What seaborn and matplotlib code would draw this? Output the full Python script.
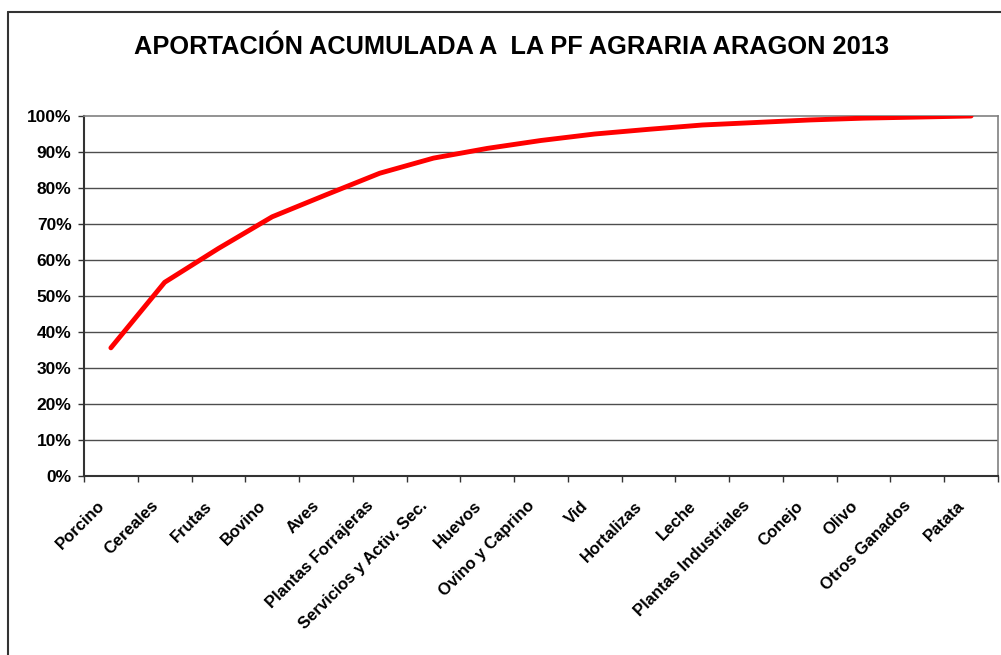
import matplotlib
matplotlib.use("Agg")
import matplotlib.pyplot as plt
import matplotlib.transforms as mtransforms
from matplotlib.ticker import FixedLocator, PercentFormatter
import seaborn as sns
import pandas as pd

categorias = ['Porcino', 'Cereales', 'Frutas', 'Bovino', 'Aves', 'Plantas Forrajeras',
              'Servicios y Activ. Sec.', 'Huevos', 'Ovino y Caprino', 'Vid', 'Hortalizas',
              'Leche', 'Plantas Industriales', 'Conejo', 'Olivo', 'Otros Ganados', 'Patata']
acumulado = [0.356, 0.538, 0.632, 0.720, 0.781, 0.841, 0.883, 0.910, 0.932, 0.950,
             0.963, 0.975, 0.982, 0.989, 0.994, 0.997, 1.000]
y_ticks = [0.0, 0.1, 0.2, 0.3, 0.4, 0.5, 0.6, 0.7, 0.8, 0.9, 1.0]
titulo = 'APORTACIÓN ACUMULADA A  LA PF AGRARIA ARAGON 2013'

df = pd.DataFrame({'pos': range(len(categorias)), 'categoria': categorias, 'acum': acumulado})

sns.set_style('white')
plt.rcParams['font.family'] = ['Liberation Sans', 'DejaVu Sans']
plt.rcParams['text.color'] = 'black'
plt.rcParams['xtick.color'] = 'black'
plt.rcParams['ytick.color'] = 'black'

fig = plt.figure(figsize=(10.01, 6.55), dpi=100)
ax = fig.add_axes([84 / 1001, 1 - 476 / 655, 914 / 1001, 360 / 655])

# marco exterior del grafico
fig.add_artist(plt.Line2D([8 / 1001, 8 / 1001], [0, 1 - 12 / 655], transform=fig.transFigure,
                          color='#333333', lw=1.5))
fig.add_artist(plt.Line2D([8 / 1001, 1], [1 - 12 / 655, 1 - 12 / 655], transform=fig.transFigure,
                          color='#333333', lw=1.5))

for y in y_ticks[1:-1]:
    ax.axhline(y, color='#4d4d4d', lw=1, zorder=1)

sns.lineplot(data=df, x='pos', y='acum', color='#ff0000', lw=3.5, ax=ax, zorder=3)

ax.set_xlim(-0.5, len(categorias) - 0.5)
ax.set_ylim(0, 1)
ax.set_xlabel('')
ax.set_ylabel('')

ax.yaxis.set_major_locator(FixedLocator(y_ticks))
ax.yaxis.set_major_formatter(PercentFormatter(1.0, decimals=0))
ax.tick_params(axis='y', left=True, length=4, width=1, color='#333333', pad=5,
               labelsize=12.5, labelcolor='black')
for lab in ax.get_yticklabels():
    lab.set_fontweight('bold')

ax.set_xticks(range(len(categorias)))
ax.set_xticklabels(categorias, rotation=45, ha='right', rotation_mode='anchor',
                   fontsize=12, fontweight='bold', color='black')
ax.set_xticks([i - 0.5 for i in range(len(categorias) + 1)], minor=True)
ax.tick_params(axis='x', which='major', length=0, pad=16)
ax.tick_params(axis='x', which='minor', bottom=True, length=4, width=1, color='#333333')
offset = mtransforms.ScaledTranslation(-0.14, 0, fig.dpi_scale_trans)
for lab in ax.get_xticklabels():
    lab.set_transform(lab.get_transform() + offset)

for side in ['left', 'bottom']:
    ax.spines[side].set_color('#333333')
    ax.spines[side].set_linewidth(1.5)
for side in ['top', 'right']:
    ax.spines[side].set_visible(True)
    ax.spines[side].set_color('#808080')
    ax.spines[side].set_linewidth(1.2)

fig.text(511 / 1001, 1 - 47 / 655, titulo, ha='center', va='center',
         fontsize=18.3, fontweight='bold', color='black')

fig.savefig('out.png', dpi=100)
